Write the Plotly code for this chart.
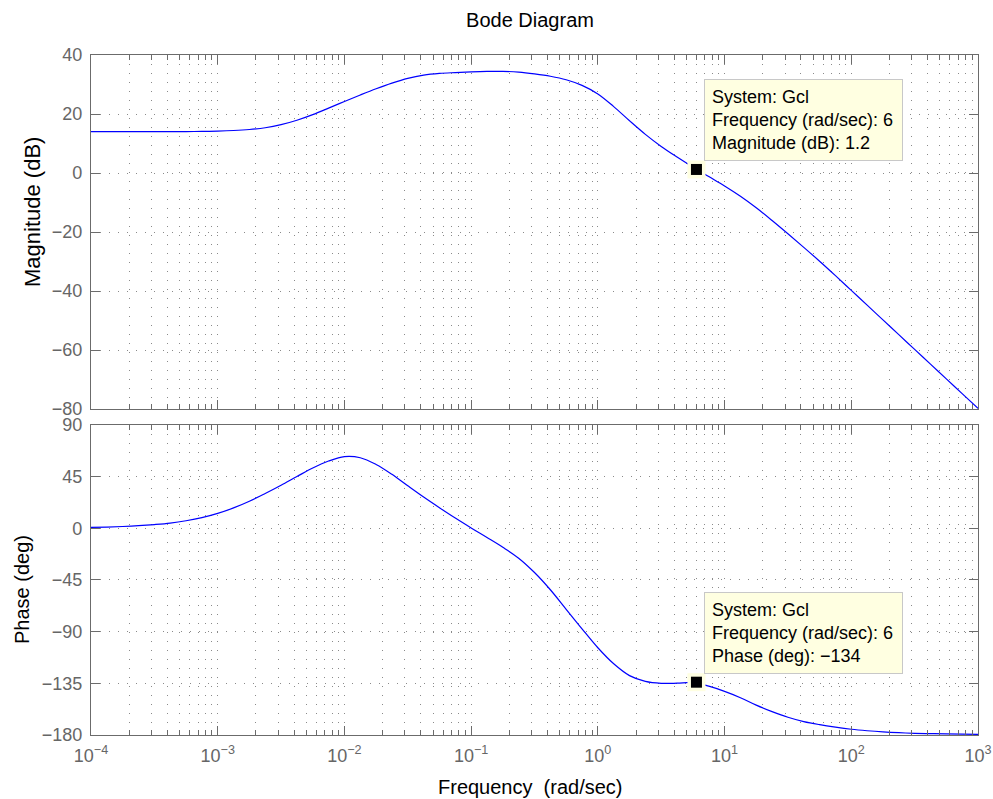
import math
import plotly.graph_objects as go

# ---- data (frequency in rad/sec, 8 samples per decade) ----
freq = [1.000e-4, 1.334e-4, 1.778e-4, 2.371e-4, 3.162e-4, 4.217e-4, 5.623e-4, 7.499e-4,
        1.000e-3, 1.334e-3, 1.778e-3, 2.371e-3, 3.162e-3, 4.217e-3, 5.623e-3, 7.499e-3,
        1.000e-2, 1.334e-2, 1.778e-2, 2.371e-2, 3.162e-2, 4.217e-2, 5.623e-2, 7.499e-2,
        1.000e-1, 1.334e-1, 1.778e-1, 2.371e-1, 3.162e-1, 4.217e-1, 5.623e-1, 7.499e-1,
        1.000, 1.334, 1.778, 2.371, 3.162, 4.217, 5.623, 7.499,
        10.00, 13.34, 17.78, 23.71, 31.62, 42.17, 56.23, 74.99,
        100.0, 133.4, 177.8, 237.1, 316.2, 421.7, 562.3, 749.9,
        1000.0]

mag_db = [14.0, 14.0, 14.0, 14.0, 14.0, 14.05, 14.05, 14.1,
          14.2, 14.4, 14.75, 15.35, 16.4, 17.9, 19.8, 22.0,
          24.25, 26.45, 28.55, 30.45, 32.05, 33.15, 33.75, 34.05,
          34.3, 34.45, 34.45, 34.2, 33.6, 32.8, 31.6, 29.7,
          26.8, 22.5, 17.7, 13.1, 9.0, 5.4, 2.0, -1.2,
          -4.4, -7.9, -11.8, -16.1, -20.6, -25.2, -29.9, -34.8,
          -39.8, -44.8, -49.8, -54.8, -59.8, -64.8, -69.8, -74.8,
          -79.8]

phase_deg = [0.8, 1.1, 1.6, 2.3, 3.3, 4.6, 6.6, 9.3,
             13.0, 17.8, 23.6, 30.4, 37.6, 45.1, 52.5, 58.6,
             62.5, 61.5, 55.6, 47.0, 37.0, 27.2, 17.9, 8.9,
             0.3, -8.0, -16.5, -26.0, -38.5, -53.5, -70.5, -87.5,
             -104.0, -118.0, -128.3, -133.3, -135.0, -134.9, -134.3, -137.5,
             -142.0, -147.5, -154.0, -159.6, -164.5, -168.3, -171.0, -173.2,
             -175.0, -176.3, -177.3, -178.0, -178.5, -178.8, -179.1, -179.3,
             -179.4]

tip_system = "Gcl"
tip_freq = 6
tip_mag = 1.2
tip_phase = -134

x_tick_vals = [1e-4, 1e-3, 1e-2, 1e-1, 1e0, 1e1, 1e2, 1e3]
x_tick_text = ["10<sup>\u22124</sup>", "10<sup>\u22123</sup>", "10<sup>\u22122</sup>",
               "10<sup>\u22121</sup>", "10<sup>0</sup>", "10<sup>1</sup>",
               "10<sup>2</sup>", "10<sup>3</sup>"]
mag_ticks = [-80, -60, -40, -20, 0, 20, 40]
phase_ticks = [-180, -135, -90, -45, 0, 45, 90]

title_text = "Bode Diagram"
x_title = "Frequency\u00a0\u00a0(rad/sec)"
mag_title = "Magnitude (dB)"
phase_title = "Phase (deg)"

# ---- styling ----
FONT = "Liberation Sans, Arial, Helvetica, sans-serif"
AXC = "#6b6b6b"
GRIDC = "#8a8a8a"
DASH = "1px,8px"
minor_vals = [m * 10 ** e for e in range(-4, 3) for m in range(2, 10)]

common = dict(showline=True, linecolor=AXC, linewidth=1.3, mirror="allticks",
              ticks="inside", ticklen=9, tickwidth=1, tickcolor=AXC,
              showgrid=True, gridcolor=GRIDC, gridwidth=1, griddash=DASH,
              zeroline=False, automargin=False,
              tickfont=dict(family=FONT, size=18, color="#666666"))

xcommon = dict(common, type="log", range=[-4, 3], tickmode="array",
               tickvals=x_tick_vals, ticktext=x_tick_text,
               minor=dict(tickmode="array", tickvals=minor_vals, ticks="inside", ticklen=5,
                          tickcolor=AXC, showgrid=True, gridcolor=GRIDC, griddash=DASH,
                          gridwidth=1))

line_style = dict(color="#0000ff", width=1.2, shape="spline", smoothing=1.0)

fig = go.Figure()
fig.add_trace(go.Scatter(x=freq, y=mag_db, mode="lines", xaxis="x", yaxis="y",
                         line=line_style, showlegend=False, hoverinfo="skip"))
fig.add_trace(go.Scatter(x=freq, y=phase_deg, mode="lines", xaxis="x2", yaxis="y2",
                         line=line_style, showlegend=False, hoverinfo="skip"))
for xa, ya, yv in (("x", "y", tip_mag), ("x2", "y2", tip_phase)):
    fig.add_trace(go.Scatter(x=[tip_freq], y=[yv], mode="markers", xaxis=xa, yaxis=ya,
                             marker=dict(symbol="square", size=18, color="#ffffe1"),
                             showlegend=False, hoverinfo="skip"))
    fig.add_trace(go.Scatter(x=[tip_freq], y=[yv], mode="markers", xaxis=xa, yaxis=ya,
                             marker=dict(symbol="square", size=11, color="#000000"),
                             showlegend=False, hoverinfo="skip"))

top_dom = [0.4794, 1.0]
bot_dom = [0.0, 0.4559]

fig.update_layout(
    width=993, height=799,
    margin=dict(l=91, r=15, t=55, b=64),
    paper_bgcolor="white", plot_bgcolor="white",
    showlegend=False,
    xaxis=dict(xcommon, anchor="y", showticklabels=False, matches="x2"),
    yaxis=dict(common, domain=top_dom, anchor="x", range=[-80, 40], tickmode="array",
               tickvals=mag_ticks, ticklabelstandoff=4),
    xaxis2=dict(xcommon, anchor="y2", ticklabelstandoff=4),
    yaxis2=dict(common, domain=bot_dom, anchor="x2", range=[-180, 90], tickmode="array",
                tickvals=phase_ticks, ticklabelstandoff=4),
    title=dict(text=title_text, x=530 / 993, xanchor="center", y=1 - 20 / 799,
               yanchor="middle", yref="container",
               font=dict(family=FONT, size=20, color="#000000")),
)

box = dict(showarrow=False, align="left", valign="middle", xanchor="left", yanchor="bottom",
           xshift=8, yshift=8, bgcolor="#ffffe1", bordercolor="#c8c8c8",
           borderwidth=1, borderpad=7, width=183, height=66,
           font=dict(family=FONT, size=18, color="#000000"))
fig.add_annotation(box, x=math.log10(tip_freq), y=tip_mag, xref="x", yref="y",
                   text=f"System: {tip_system}<br>Frequency (rad/sec): {tip_freq}<br>Magnitude (dB): {tip_mag}")
fig.add_annotation(box, x=math.log10(tip_freq), y=tip_phase, xref="x2", yref="y2",
                   text=f"System: {tip_system}<br>Frequency (rad/sec): {tip_freq}<br>Phase (deg): {str(tip_phase).replace('-', chr(0x2212))}")

lab = dict(showarrow=False, xref="paper", yref="paper", textangle=-90,
           xanchor="center", yanchor="middle", font=dict(family=FONT, size=20, color="#000000"))
fig.add_annotation(lab, text=mag_title, x=(33 - 91) / 887, y=(735 - 212) / 680,
                   font=dict(family=FONT, size=22, color="#000000"))
fig.add_annotation(lab, text=phase_title, x=(22 - 91) / 887, y=(735 - 590) / 680)
fig.add_annotation(showarrow=False, xref="paper", yref="paper", text=x_title,
                   x=(530 - 91) / 887, y=(735 - 787) / 680, xanchor="center", yanchor="middle",
                   font=dict(family=FONT, size=20, color="#000000"))

fig.write_html("out.html")
